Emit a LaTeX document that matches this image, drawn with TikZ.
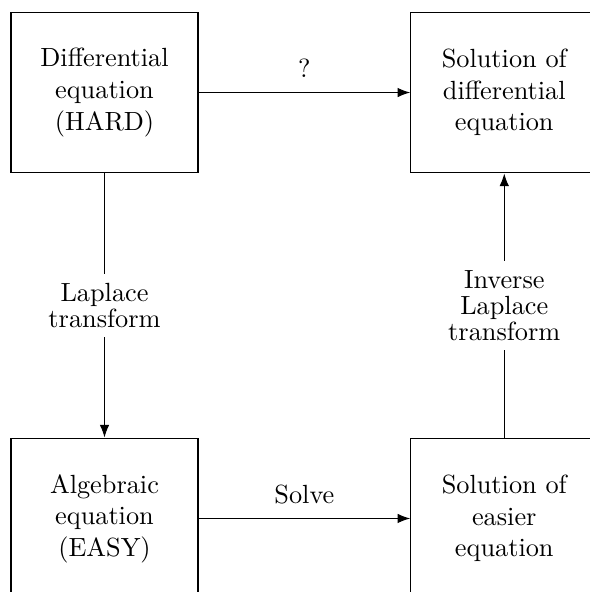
\documentclass[tikz,border=0pt]{standalone}
\usetikzlibrary{arrows.meta, positioning}
\tikzset{box/.style={rectangle,draw,align=center,minimum width=25mm,minimum height=21.5mm,inner sep=3pt},line/.style={-Latex},lbl/.style={fill=white,align=center,font=\fontsize{10}{10}\selectfont}}

\begin{document}
\begin{tikzpicture}[node distance=35.3mm and 28.3mm]
\useasboundingbox (0,0) rectangle (7.874,-7.914);
\node[box] (a) at (1.397,-1.237) {Differential\\equation\\(HARD)};
\node[box, right=of a] (b) {Solution of\\differential\\equation};
\node[box, below=of a] (c) {Algebraic\\equation\\(EASY)};
\node[box, right=of c] (d) {Solution of\\easier\\equation};
\draw[line] (a) -- node[above=2pt]{?} (b);
\draw[line] (a) -- node[lbl]{Laplace\\transform} (c);
\draw[line] (c) -- node[above=2pt]{Solve} (d);
\draw[line] (d) -- node[lbl]{Inverse\\Laplace\\transform} (b);
\end{tikzpicture}
\end{document}
